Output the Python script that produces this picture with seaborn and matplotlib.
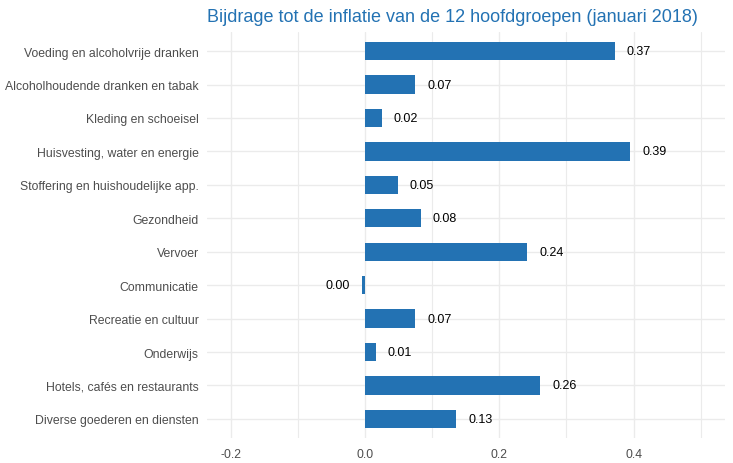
import matplotlib
matplotlib.use("Agg")
import matplotlib.pyplot as plt
import seaborn as sns
import pandas as pd
from matplotlib.ticker import FixedLocator

categories = [
    "Voeding en alcoholvrije dranken",
    "Alcoholhoudende dranken en tabak",
    "Kleding en schoeisel",
    "Huisvesting, water en energie",
    "Stoffering en huishoudelijke app.",
    "Gezondheid",
    "Vervoer",
    "Communicatie",
    "Recreatie en cultuur",
    "Onderwijs",
    "Hotels, cafés en restaurants",
    "Diverse goederen en diensten",
]
values = [0.372, 0.075, 0.025, 0.395, 0.049, 0.083, 0.242, -0.004, 0.075, 0.016, 0.261, 0.136]
value_labels = ["0.37", "0.07", "0.02", "0.39", "0.05", "0.08", "0.24", "0.00", "0.07", "0.01", "0.26", "0.13"]
x_ticks = [-0.2, 0.0, 0.2, 0.4]
x_tick_labels = ["-0.2", "0.0", "0.2", "0.4"]
title = "Bijdrage tot de inflatie van de 12 hoofdgroepen (januari 2018)"

sns.set_theme(style="white")
plt.rcParams["font.family"] = ["Liberation Sans", "DejaVu Sans"]

df = pd.DataFrame({"categorie": categories, "waarde": values})

fig = plt.figure(figsize=(7.33, 4.64), dpi=100)
ax = fig.add_axes([207 / 733, 1 - 439 / 464, (725 - 207) / 733, (439 - 33) / 464])

bar_color = "#2372b3"
sns.barplot(data=df, x="waarde", y="categorie", orient="h", color=bar_color,
            width=0.55, saturation=1, linewidth=0, ax=ax, zorder=3)

ax.set_xlim(-0.235, 0.536)
ax.set_ylim(11.57, -0.57)

ax.xaxis.set_major_locator(FixedLocator(x_ticks))
ax.set_xticklabels(x_tick_labels)
ax.xaxis.set_minor_locator(FixedLocator([-0.1, 0.1, 0.3, 0.5]))

grid_color = "#ebebeb"
ax.grid(True, which="major", axis="both", color=grid_color, linewidth=1.0, zorder=0)
ax.grid(True, which="minor", axis="x", color=grid_color, linewidth=0.8, zorder=0)
ax.set_axisbelow(True)

for s in ax.spines.values():
    s.set_visible(False)
ax.tick_params(axis="both", which="both", length=0, colors="#4d4d4d", labelsize=8.8)
ax.tick_params(axis="y", pad=6)
ax.tick_params(axis="x", pad=7)
ax.set_xlabel("")
ax.set_ylabel("")

for i, (v, lab) in enumerate(zip(values, value_labels)):
    if v >= 0:
        ax.annotate(lab, xy=(v, i), xytext=(12, 0), textcoords="offset pixels",
                    ha="left", va="center", fontsize=9, color="black")
    else:
        ax.annotate(lab, xy=(v, i), xytext=(-12, 0), textcoords="offset pixels",
                    ha="right", va="center", fontsize=9, color="black")

fig.text(207 / 733, 1 - 17 / 464, title, ha="left", va="center",
         fontsize=13.0, color="#2372b3")

fig.savefig("out.png", dpi=100)
